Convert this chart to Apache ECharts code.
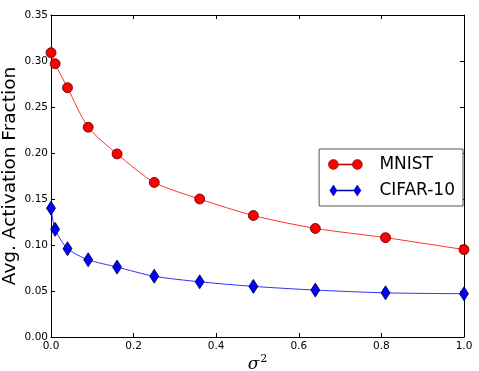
<!DOCTYPE html>
<html>
<head>
<meta charset="utf-8">
<script src="https://cdn.jsdelivr.net/npm/echarts@6/dist/echarts.min.js"></script>
<style>
html,body{margin:0;padding:0;background:#fff;}
#chart{width:479px;height:371px;}
</style>
</head>
<body>
<div id="chart"></div>
<script>
var sigma2 = [0, 0.01, 0.04, 0.09, 0.16, 0.25, 0.36, 0.49, 0.64, 0.81, 1.0];
var mnist = [0.309, 0.297, 0.271, 0.228, 0.199, 0.168, 0.150, 0.132, 0.118, 0.108, 0.095];
var cifar = [0.140, 0.117, 0.096, 0.084, 0.076, 0.066, 0.060, 0.055, 0.051, 0.048, 0.047];
var xTicks = [0, 0.2, 0.4, 0.6, 0.8, 1.0];
var yTicks = [0, 0.05, 0.10, 0.15, 0.20, 0.25, 0.30, 0.35];

function pairs(xs, ys){ return xs.map(function(x,i){ return [x, ys[i]]; }); }

var font = 'DejaVu Sans';
var circleIcon = 'path://M0,5A5,5 0 1,1 10,5A5,5 0 1,1 0,5Z M10,4.5L24,4.5L24,5.5L10,5.5Z M24,5A5,5 0 1,1 34,5A5,5 0 1,1 24,5Z';
var diamondIcon = 'path://M0,6L4,0L8,6L4,12Z M8,5.5L26,5.5L26,6.5L8,6.5Z M26,6L30,0L34,6L30,12Z';

var chart = echarts.init(document.getElementById('chart'), null, {renderer:'canvas'});
var axisCommon = {
  axisLine:{show:true, onZero:false, lineStyle:{color:'#000', width:1}},
  axisTick:{show:true, inside:true, length:4, lineStyle:{color:'#000'}},
  splitLine:{show:false}
};
chart.setOption({
  animation:false,
  backgroundColor:'#fff',
  grid:{left:51, right:15, top:15, bottom:34, containLabel:false, outerBoundsMode:'none'},
  xAxis:[
    Object.assign({type:'value', min:0, max:1, interval:0.2, position:'bottom',
      name:'{a|σ}{b|2}', nameLocation:'middle', nameGap:17, nameMoveOverlap:false,
      nameTextStyle:{rich:{
        a:{fontFamily:'DejaVu Serif', fontStyle:'italic', fontSize:17, color:'#000'},
        b:{fontFamily:'DejaVu Serif', fontSize:11, color:'#000', verticalAlign:'top', padding:[0,0,10,1]}
      }},
      axisLabel:{fontFamily:font, fontSize:10.5, color:'#000', margin:4,
        formatter:function(v){ return v.toFixed(1); }}
    }, axisCommon),
    Object.assign({type:'value', min:0, max:1, interval:0.2, position:'top',
      axisLabel:{show:false}}, axisCommon)
  ],
  yAxis:[
    Object.assign({type:'value', min:0, max:0.35, interval:0.05, position:'left',
      name:'Avg. Activation Fraction', nameLocation:'middle', nameGap:31, nameMoveOverlap:false,
      nameTextStyle:{fontFamily:font, fontSize:18.5, color:'#000'},
      axisLabel:{fontFamily:font, fontSize:10.5, color:'#000', margin:3,
        formatter:function(v){ return v.toFixed(2); }}
    }, axisCommon),
    Object.assign({type:'value', min:0, max:0.35, interval:0.05, position:'right',
      axisLabel:{show:false}}, axisCommon)
  ],
  legend:{
    orient:'vertical', right:16, top:149,
    backgroundColor:'#fff', borderColor:'#555', borderWidth:1,
    padding:[7,8,7,9], itemGap:9, itemWidth:34, itemHeight:11,
    textStyle:{fontFamily:font, fontSize:17, color:'#000', padding:[0,0,0,12]},
    data:[
      {name:'MNIST', icon:circleIcon, itemStyle:{color:'#ff0000', borderColor:'#600', borderWidth:0.5}},
      {name:'CIFAR-10', icon:diamondIcon, itemStyle:{color:'#0000ff', borderColor:'#003', borderWidth:0.5}}
    ]
  },
  series:[
    {name:'MNIST', type:'line', data:pairs(sigma2, mnist), smooth:0.25, clip:false,
      symbol:'circle', symbolSize:10,
      lineStyle:{color:'#ff3030', width:1},
      itemStyle:{color:'#ff0000', borderColor:'#500', borderWidth:0.8}},
    {name:'CIFAR-10', type:'line', data:pairs(sigma2, cifar), smooth:0.25, clip:false,
      symbol:'diamond', symbolSize:[9,14],
      lineStyle:{color:'#3030ff', width:1},
      itemStyle:{color:'#0000ff', borderColor:'#003', borderWidth:0.8}}
  ]
});
</script>
</body>
</html>
